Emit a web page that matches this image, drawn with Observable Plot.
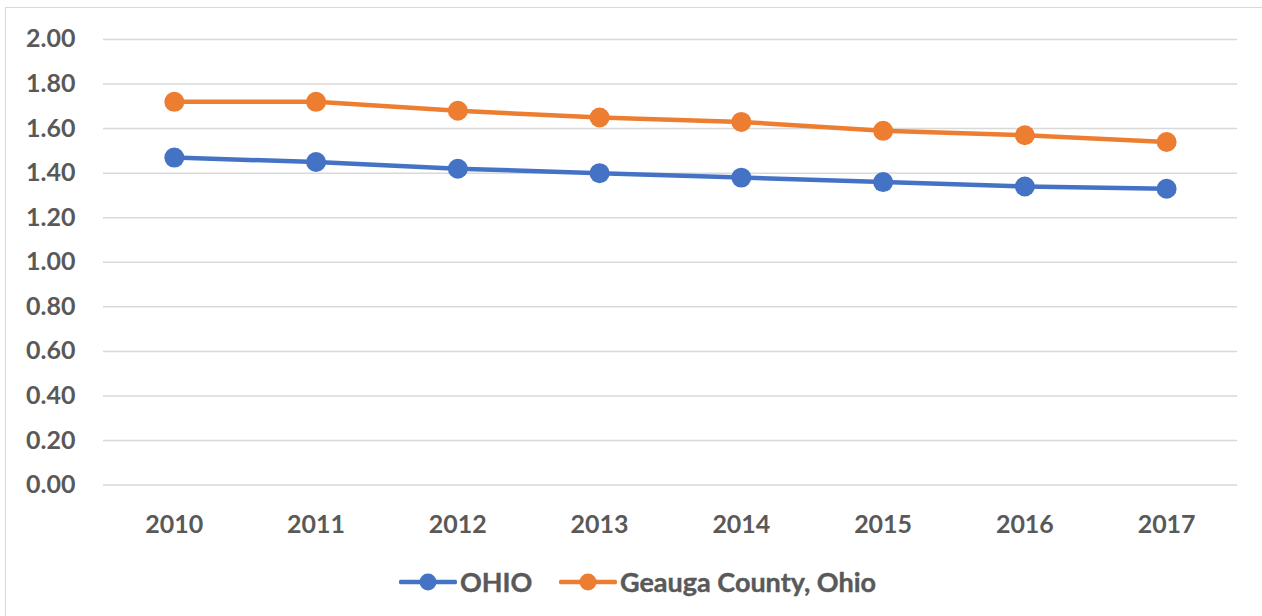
<!DOCTYPE html>
<html>
<head>
<meta charset="utf-8">
<script src="https://cdn.jsdelivr.net/npm/d3@7"></script>
<script src="https://cdn.jsdelivr.net/npm/@observablehq/plot@0.6"></script>
<style>
  html, body { margin: 0; padding: 0; background: #fff; width: 1262px; height: 616px; overflow: hidden; }
  #frame { position: absolute; left: 5px; top: 7px; width: 1257px; height: 609px;
           border-left: 1.5px solid #d9d9d9; border-top: 1.5px solid #d9d9d9; box-sizing: border-box; }
  #chart svg { display: block; }
  #legend { position: relative; height: 56px; font-family: Lato, "Open Sans", sans-serif; font-weight: 700;
            font-size: 27px; color: #595959; -webkit-text-stroke: 0.4px #595959; }
  .item { position: absolute; top: 6px; display: flex; align-items: center; gap: 3px; height: 30px; }
</style>
</head>
<body>
<div id="frame">
  <div id="chart"></div>
  <div id="legend"></div>
</div>
<script>
const years = ["2010", "2011", "2012", "2013", "2014", "2015", "2016", "2017"];
const seriesNames = ["OHIO", "Geauga County, Ohio"];
const ohio = [1.47, 1.45, 1.42, 1.40, 1.38, 1.36, 1.34, 1.33];
const geauga = [1.72, 1.72, 1.68, 1.65, 1.63, 1.59, 1.57, 1.54];
const colors = ["#4472C4", "#ED7D31"];
const yTicks = [0, 0.2, 0.4, 0.6, 0.8, 1.0, 1.2, 1.4, 1.6, 1.8, 2.0];

const data = [];
[ohio, geauga].forEach((vals, s) => vals.forEach((v, i) => data.push({year: years[i], value: v, series: seriesNames[s]})));

const plot = Plot.plot({
  width: 1257,
  height: 553,
  marginLeft: 97,
  marginRight: 25,
  marginTop: 31,
  marginBottom: 76,
  style: {fontFamily: 'Lato, "Open Sans", sans-serif', fontWeight: 700, fontSize: "25px", color: "#595959", background: "#fff"},
  x: {type: "band", domain: years, padding: 0, round: false, label: null},
  y: {domain: [0, 2], label: null},
  color: {domain: seriesNames, range: colors},
  marks: [
    Plot.gridY(yTicks, {stroke: "#d9d9d9", strokeOpacity: 1, strokeWidth: 1.5}),
    Plot.axisY(yTicks, {tickSize: 0, tickPadding: 28, tickFormat: d3.format(".2f"), fill: "#595959", stroke: "#595959", strokeWidth: 0.4, fontWeight: 700, fontSize: 25, label: null}),
    Plot.axisX({tickSize: 0, tickPadding: 30, fill: "#595959", stroke: "#595959", strokeWidth: 0.4, fontWeight: 700, fontSize: 25, label: null}),
    Plot.line(data, {x: "year", y: "value", z: "series", stroke: "series", strokeWidth: 4.5}),
    Plot.dot(data, {x: "year", y: "value", fill: "series", r: 10})
  ]
});
document.getElementById("chart").appendChild(plot);

const legend = document.getElementById("legend");
const legendLeft = [393, 553];
seriesNames.forEach((name, i) => {
  const item = document.createElement("div");
  item.className = "item";
  item.style.left = legendLeft[i] + "px";
  item.innerHTML = `<svg width="58" height="22"><line x1="2" y1="11" x2="56" y2="11" stroke="${colors[i]}" stroke-width="4.5" stroke-linecap="round"/><circle cx="29" cy="11" r="8.5" fill="${colors[i]}"/></svg><span>${name}</span>`;
  legend.appendChild(item);
});
</script>
</body>
</html>
